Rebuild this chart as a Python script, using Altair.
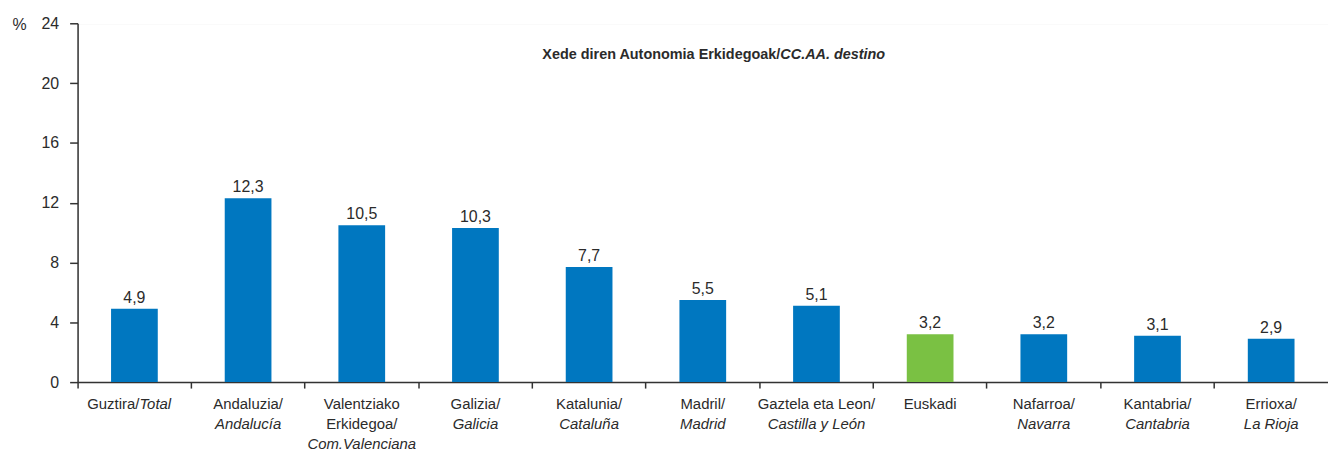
import altair as alt
import pandas as pd

# ---- data ----
keys = ["Guztira/", "Andaluzia/", "Valentziako", "Galizia/", "Katalunia/", "Madril/",
        "Gaztela eta Leon/", "Euskadi", "Nafarroa/", "Kantabria/", "Errioxa/"]
values = [4.9, 12.3, 10.5, 10.3, 7.7, 5.5, 5.1, 3.2, 3.2, 3.1, 2.9]
line1_normal = ["", "Andaluzia/", "Valentziako", "Galizia/", "Katalunia/", "Madril/",
                "Gaztela eta Leon/", "Euskadi", "Nafarroa/", "Kantabria/", "Errioxa/"]
inline_normal = ["Guztira/", "", "", "", "", "", "", "", "", "", ""]
inline_italic = ["Total", "", "", "", "", "", "", "", "", "", ""]
line2_normal = ["", "", "Erkidegoa/", "", "", "", "", "", "", "", ""]
line2_italic = ["", "Andalucía", "", "Galicia", "Cataluña", "Madrid",
                "Castilla y León", "", "Navarra", "Cantabria", "La Rioja"]
line3_italic = ["", "", "Com.Valenciana", "", "", "", "", "", "", "", ""]
groups = ["o", "o", "o", "o", "o", "o", "o", "Euskadi", "o", "o", "o"]
y_ticks = [0, 4, 8, 12, 16, 20, 24]
title_normal = "Xede diren Autonomia Erkidegoak/"
title_italic = "CC.AA. destino"

BLUE = "#0077C0"
GREEN = "#7AC143"
BG = "#E2EFD6"
TXT = "#2B2B2B"
FONT = "Liberation Sans"

df = pd.DataFrame({
    "key": keys, "value": values, "group": groups,
    "vlabel": [f"{v:.1f}".replace(".", ",") for v in values],
    "l1n": line1_normal, "gn": inline_normal, "gi": inline_italic,
    "l2n": line2_normal, "l2i": line2_italic, "l3i": line3_italic,
})

W, H = 1258, 361

x_enc = alt.X("key:N", sort=keys, title=None,
              scale=alt.Scale(paddingInner=0, paddingOuter=0),
              axis=alt.Axis(labels=False, ticks=True, tickSize=6, tickColor="#333333",
                            tickWidth=1.5, domainColor="#333333", domainWidth=1.5,
                            grid=False, bandPosition=0))

base = alt.Chart(df).encode(x=x_enc)

bars = base.mark_bar(width=47).encode(
    y=alt.Y("value:Q", scale=alt.Scale(domain=[0, 24], nice=False),
            axis=alt.Axis(values=y_ticks, tickSize=8, tickColor="#333333", tickWidth=1.5,
                          domainColor="#333333", domainWidth=1.5,
                          gridColor="white", gridWidth=1.5,
                          labelFont=FONT, labelFontSize=16, labelColor=TXT, labelPadding=11,
                          title="%", titleAngle=0, titleX=-66, titleY=1,
                          titleAlign="left", titleBaseline="middle",
                          titleFont=FONT, titleFontSize=16, titleFontWeight="normal",
                          titleColor=TXT)),
    color=alt.Color("group:N", scale=alt.Scale(domain=["o", "Euskadi"], range=[BLUE, GREEN]),
                    legend=None),
)

vlabels = base.mark_text(baseline="alphabetic", dy=-6, font=FONT, fontSize=16, color=TXT).encode(
    y="value:Q", text="vlabel:N")

def lab(field, yv, italic=False, align="center", dx=0):
    return base.mark_text(baseline="alphabetic", align=align, dx=dx, font=FONT, fontSize=15,
                          color=TXT, fontStyle="italic" if italic else "normal").encode(
        y=alt.value(yv), text=f"{field}:N")

xl = [
    lab("l1n", H + 27),
    lab("gn", H + 27, align="right", dx=5),
    lab("gi", H + 27, italic=True, align="left", dx=5),
    lab("l2n", H + 47),
    lab("l2i", H + 47, italic=True),
    lab("l3i", H + 67, italic=True),
]

tdf = pd.DataFrame({"a": [title_normal], "b": [title_italic]})
t1 = alt.Chart(tdf).mark_text(align="right", baseline="alphabetic", font=FONT, fontSize=14.5,
                              fontWeight="bold", color=TXT).encode(
    x=alt.value(707), y=alt.value(36), text="a:N")
t2 = alt.Chart(tdf).mark_text(align="left", baseline="alphabetic", font=FONT, fontSize=14.5,
                              fontWeight="bold", fontStyle="italic", color=TXT).encode(
    x=alt.value(707), y=alt.value(36), text="b:N")

chart = alt.layer(bars, vlabels, *xl, t1, t2).properties(
    width=W, height=H,
    autosize=alt.AutoSizeParams(type="none"),
    padding={"left": 70, "top": 14, "right": 0, "bottom": 80},
).configure_view(fill=BG, strokeWidth=0).configure(background="white")

chart.save("out.html", embed_options={"renderer": "svg", "actions": False})
